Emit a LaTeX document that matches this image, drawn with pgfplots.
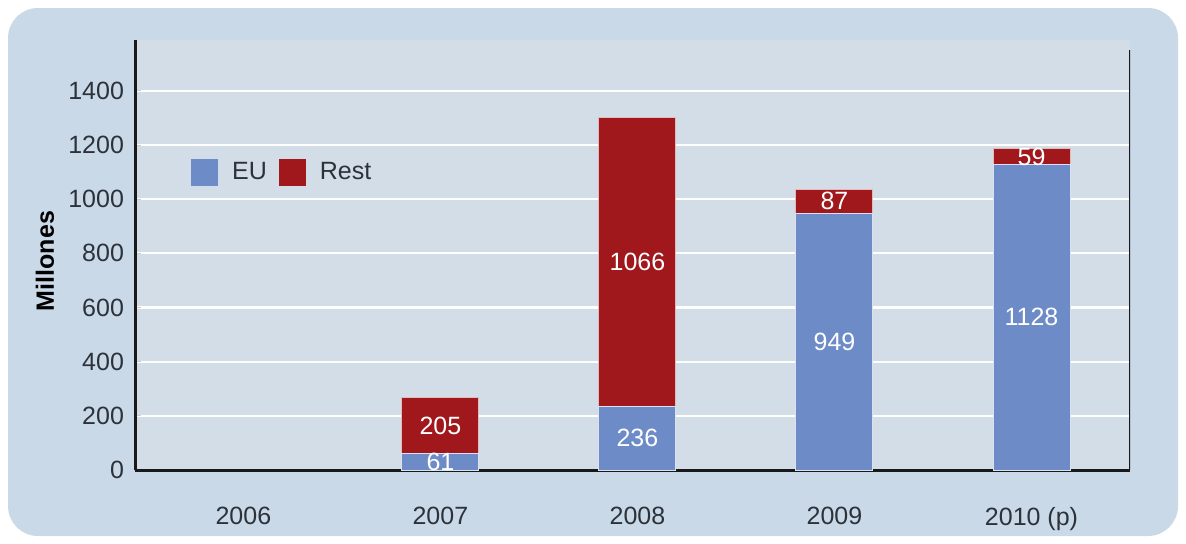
\documentclass[border=0pt]{standalone}
\usepackage{pgfplots}
\pgfplotsset{compat=1.18}
\usepackage{pgfplotstable}
\usepackage{fontspec}
\setmainfont{Liberation Sans}
\setsansfont{Liberation Sans}

\definecolor{panel}{RGB}{201,217,231}
\definecolor{plotbg}{RGB}{211,221,231}
\definecolor{eublue}{RGB}{108,139,199}
\definecolor{restred}{RGB}{161,24,28}
\definecolor{txt}{RGB}{45,50,58}

\pgfplotstableread{
x eu rest
1 61 205
2 236 1066
3 949 87
4 1128 59
}\datatable

\begin{document}
\begin{tikzpicture}[x=1pt,y=1pt]
% page and rounded panel
\fill[white] (0,0) rectangle (593,271.5);
\fill[panel, rounded corners=15pt] (4,3.5) rectangle (589,267.5);
\begin{axis}[
    at={(67.5pt,36.5pt)}, anchor=south west,
    scale only axis, width=497.5pt, height=215pt,
    ybar stacked, bar width=38.5pt,
    xmin=-0.55, xmax=4.5, ymin=0, ymax=1588,
    axis background/.style={fill=plotbg},
    axis x line*=bottom, axis y line*=left,
    axis line style={-, line width=1.5pt, black!90},
    ytick={0,200,...,1400},
    ymajorgrids, grid style={white, line width=1.1pt},
    y tick label style={font=\fontsize{12.5}{14}\selectfont, text=txt, xshift=-2pt},
    ytick style={draw=white!60!gray, line width=0.5pt}, major tick length=3pt,
    xtick={0,...,4},
    xticklabels={2006,2007,2008,2009,2010 (p)},
    x tick label style={font=\fontsize{12.5}{14}\selectfont, text=txt, yshift=-15pt},
    x tick style={draw=none},
    extra x ticks={-0.5,0.5,1.5,2.5,3.5,4.5},
    extra x tick labels={},
    extra x tick style={grid=none, tick align=outside, major tick length=4pt,
        tick style={draw=gray, line width=0.6pt}},
    /pgf/number format/assume math mode=true,
    /pgf/number format/1000 sep={},
    ylabel={\textbf{Millones}},
    every axis y label/.style={at={(axis description cs:-0.0905,0.486)},
        rotate=90, anchor=center, font=\fontsize{12.5}{14}\selectfont, text=black},
    legend columns=2,
    legend style={at={(axis description cs:0.05,0.693)}, anchor=west,
        draw=none, fill=none, font=\fontsize{12.5}{14}\selectfont, text=txt,
        /tikz/every odd column/.append style={column sep=5pt},
        /tikz/every even column/.append style={column sep=4pt}},
    legend image code/.code={\path[#1,draw=none] (0pt,-6.75pt) rectangle (13.5pt,6.75pt);},
    nodes near coords,
    every node near coord/.append style={anchor=center, text=white,
        font=\fontsize{12.5}{14}\selectfont},
]
\addplot[fill=eublue, draw=white!75!eublue, line width=0.5pt,
    point meta=explicit]
    table[x=x, y=eu, meta=eu] {\datatable};
\addplot[fill=restred, draw=white!70!restred, line width=0.5pt,
    point meta=explicit]
    table[x=x, y=rest, meta=rest] {\datatable};
\legend{EU, Rest}
\draw[line width=1.5pt, black!90] (axis cs:4.5,0) -- (axis cs:4.5,1550);
\end{axis}
\end{tikzpicture}
\end{document}
